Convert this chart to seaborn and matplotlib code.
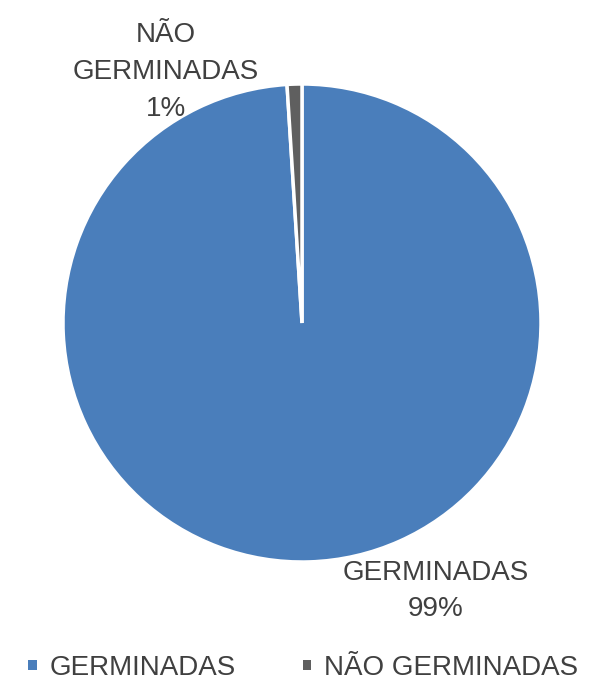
import matplotlib
matplotlib.use("Agg")
import matplotlib.pyplot as plt
import seaborn as sns
from matplotlib.patches import Patch

sns.set_theme(style="white")
plt.rcParams['font.family'] = ['Liberation Sans', 'DejaVu Sans']

# data
categories = ['GERMINADAS', 'NÃO GERMINADAS']
values = [99, 1]
pct_labels = ['99%', '1%']
colors = ['#4a7ebb', '#5f5f5f']
text_color = '#404040'

fig = plt.figure(figsize=(6.1, 6.83), dpi=100)
# pie centre ~ (302, 323) px, radius ~ 239 px
ax = fig.add_axes([63 / 610, (683 - 323 - 239) / 683, 478 / 610, 478 / 683])

wedges, _ = ax.pie(values, colors=colors, startangle=90, counterclock=False,
                   wedgeprops=dict(edgecolor='white', linewidth=2.5))
ax.set_xlim(-1, 1)
ax.set_ylim(-1, 1)
ax.set_aspect('equal')

# data labels (best-fit positions like Excel)
ax.text(0.56, -1.12, categories[0] + '\n' + pct_labels[0], ha='center', va='center',
        fontsize=20, color=text_color, linespacing=1.5)
ax.text(-0.57, 1.05, 'NÃO\nGERMINADAS\n' + pct_labels[1], ha='center', va='center',
        fontsize=20, color=text_color, linespacing=1.55)

handles = [Patch(facecolor=c, edgecolor='none') for c in colors]
fig.legend(handles, categories, loc='center', bbox_to_anchor=(0.497, 15 / 683),
           ncol=2, frameon=False, fontsize=20, labelcolor=text_color,
           handlelength=0.32, handleheight=0.2, handletextpad=0.45, columnspacing=2.4)

fig.savefig('out.png', dpi=100)
